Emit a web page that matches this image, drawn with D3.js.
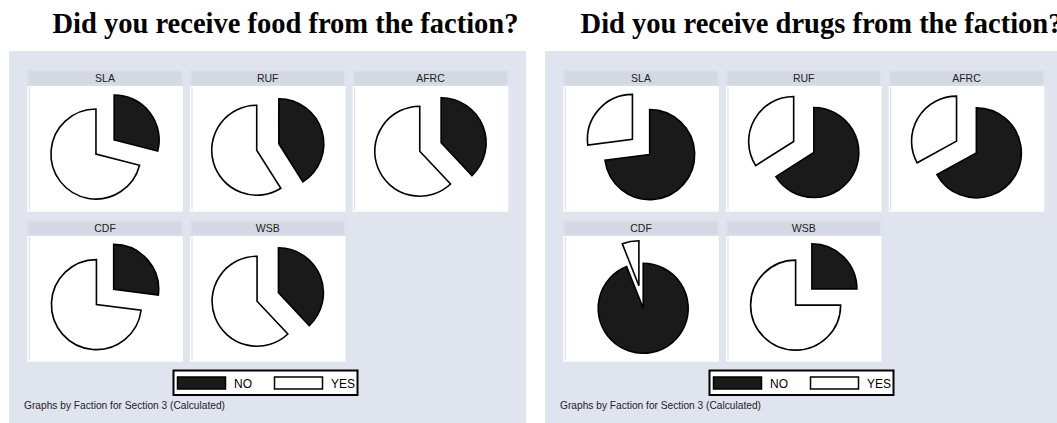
<!DOCTYPE html>
<html>
<head>
<meta charset="utf-8">
<script src="https://cdn.jsdelivr.net/npm/d3@7"></script>
<style>
  html, body { margin: 0; padding: 0; background: #ffffff; }
  svg { display: block; }
</style>
</head>
<body>
<svg id="chart" width="1057" height="423"></svg>
<script>
// ---------------- DATA ----------------
const factions = ["SLA", "RUF", "AFRC", "CDF", "WSB"];
const answerLabels = ["NO", "YES"];
const titles = ["Did you receive food from the faction?", "Did you receive drugs from the faction?"];
// percent answering NO / YES, per faction
const foodNo   = [29, 41, 38, 27, 38];
const foodYes  = [71, 59, 62, 73, 62];
const drugsNo  = [73, 66, 67, 94, 25];
const drugsYes = [27, 34, 33, 6, 75];
const noteText = "Graphs by Faction for Section 3 (Calculated)";

const questions = [
  { title: titles[0], no: foodNo,  yes: foodYes },
  { title: titles[1], no: drugsNo, yes: drugsYes }
];

// ---------------- STYLE / LAYOUT ----------------
const panelColor = "#e0e4ee";
const stripColor = "#d3d8e3";
const colors = d3.scaleOrdinal().domain(answerLabels).range(["#1a1a1a", "#ffffff"]);

const svg = d3.select("#chart");
const panelOffsets = [0, 536];

const boxW = 155.5, boxH = 141.7, stripH = 16;
const colX = d3.scaleLinear().domain([0, 1]).range([27.3, 27.3 + 162.7]);
const rowY = d3.scaleLinear().domain([0, 1]).range([70, 220]);
const radius = 45, explode = 11.5;

const pie = d3.pie().sort(null).value(d => d.value);
const arc = d3.arc().innerRadius(0).outerRadius(radius);

questions.forEach((q, qi) => {
  const g = svg.append("g").attr("transform", `translate(${panelOffsets[qi]},0)`);

  // panel background
  g.append("rect").attr("x", 9).attr("y", 51).attr("width", 517).attr("height", 372)
    .attr("fill", panelColor);

  // title
  g.append("text").attr("x", 285.5).attr("y", 33)
    .attr("text-anchor", "middle")
    .attr("font-family", "'Liberation Serif', 'Times New Roman', serif")
    .attr("font-weight", "bold").attr("font-size", "28.5px")
    .attr("fill", "#000").text(q.title);

  factions.forEach((f, i) => {
    const col = i % 3, row = Math.floor(i / 3);
    const bx = colX(col), by = rowY(row);
    const cell = g.append("g").attr("transform", `translate(${bx},${by})`);

    // strip
    cell.append("rect").attr("x", 0).attr("y", 0).attr("width", boxW).attr("height", stripH)
      .attr("fill", stripColor);
    cell.append("rect").attr("x", 1).attr("y", 1).attr("width", boxW - 2).attr("height", stripH - 2)
      .attr("fill", "none").attr("stroke", "#e3e7ef").attr("stroke-width", 0.8);
    cell.append("text").attr("x", boxW / 2).attr("y", 12)
      .attr("text-anchor", "middle")
      .attr("font-family", "'Liberation Sans', Arial, sans-serif")
      .attr("font-size", "10.5px").attr("fill", "#222").text(f);

    // plot region
    cell.append("rect").attr("x", 0).attr("y", stripH).attr("width", boxW).attr("height", boxH - stripH)
      .attr("fill", "#ffffff");
    cell.append("line").attr("x1", 2).attr("x2", 2).attr("y1", stripH + 1).attr("y2", boxH - 2)
      .attr("stroke", "#d8dce4").attr("stroke-width", 1);

    const data = answerLabels.map((a, k) => ({ key: a, value: k === 0 ? q.no[i] : q.yes[i] }));
    const arcs = pie(data);
    const pg = cell.append("g").attr("transform", `translate(${boxW / 2},${stripH + 61})`);
    pg.selectAll("path").data(arcs).enter().append("path")
      .attr("d", arc)
      .attr("transform", d => {
        const m = (d.startAngle + d.endAngle) / 2;
        return `translate(${explode * Math.sin(m)},${-explode * Math.cos(m)})`;
      })
      .attr("fill", d => colors(d.data.key))
      .attr("stroke", "#000").attr("stroke-width", 1.6)
      .attr("stroke-linejoin", "miter");
  });

  // legend
  const lg = g.append("g");
  lg.append("rect").attr("x", 173.5).attr("y", 370.5).attr("width", 184).attr("height", 24.5)
    .attr("fill", "#fff").attr("stroke", "#000").attr("stroke-width", 2);
  const legX = [177.5, 274.5];
  answerLabels.forEach((a, k) => {
    lg.append("rect").attr("x", legX[k]).attr("y", 377).attr("width", 48).attr("height", 12)
      .attr("fill", colors(a)).attr("stroke", "#000").attr("stroke-width", 1.5);
    lg.append("text").attr("x", legX[k] + 56.5).attr("y", 387.5)
      .attr("font-family", "'Liberation Sans', Arial, sans-serif")
      .attr("font-size", "12px").attr("fill", "#000").text(a);
  });

  // note
  g.append("text").attr("x", 24).attr("y", 409)
    .attr("font-family", "'Liberation Sans', Arial, sans-serif")
    .attr("font-size", "10.2px").attr("fill", "#222").text(noteText);
});
</script>
</body>
</html>
